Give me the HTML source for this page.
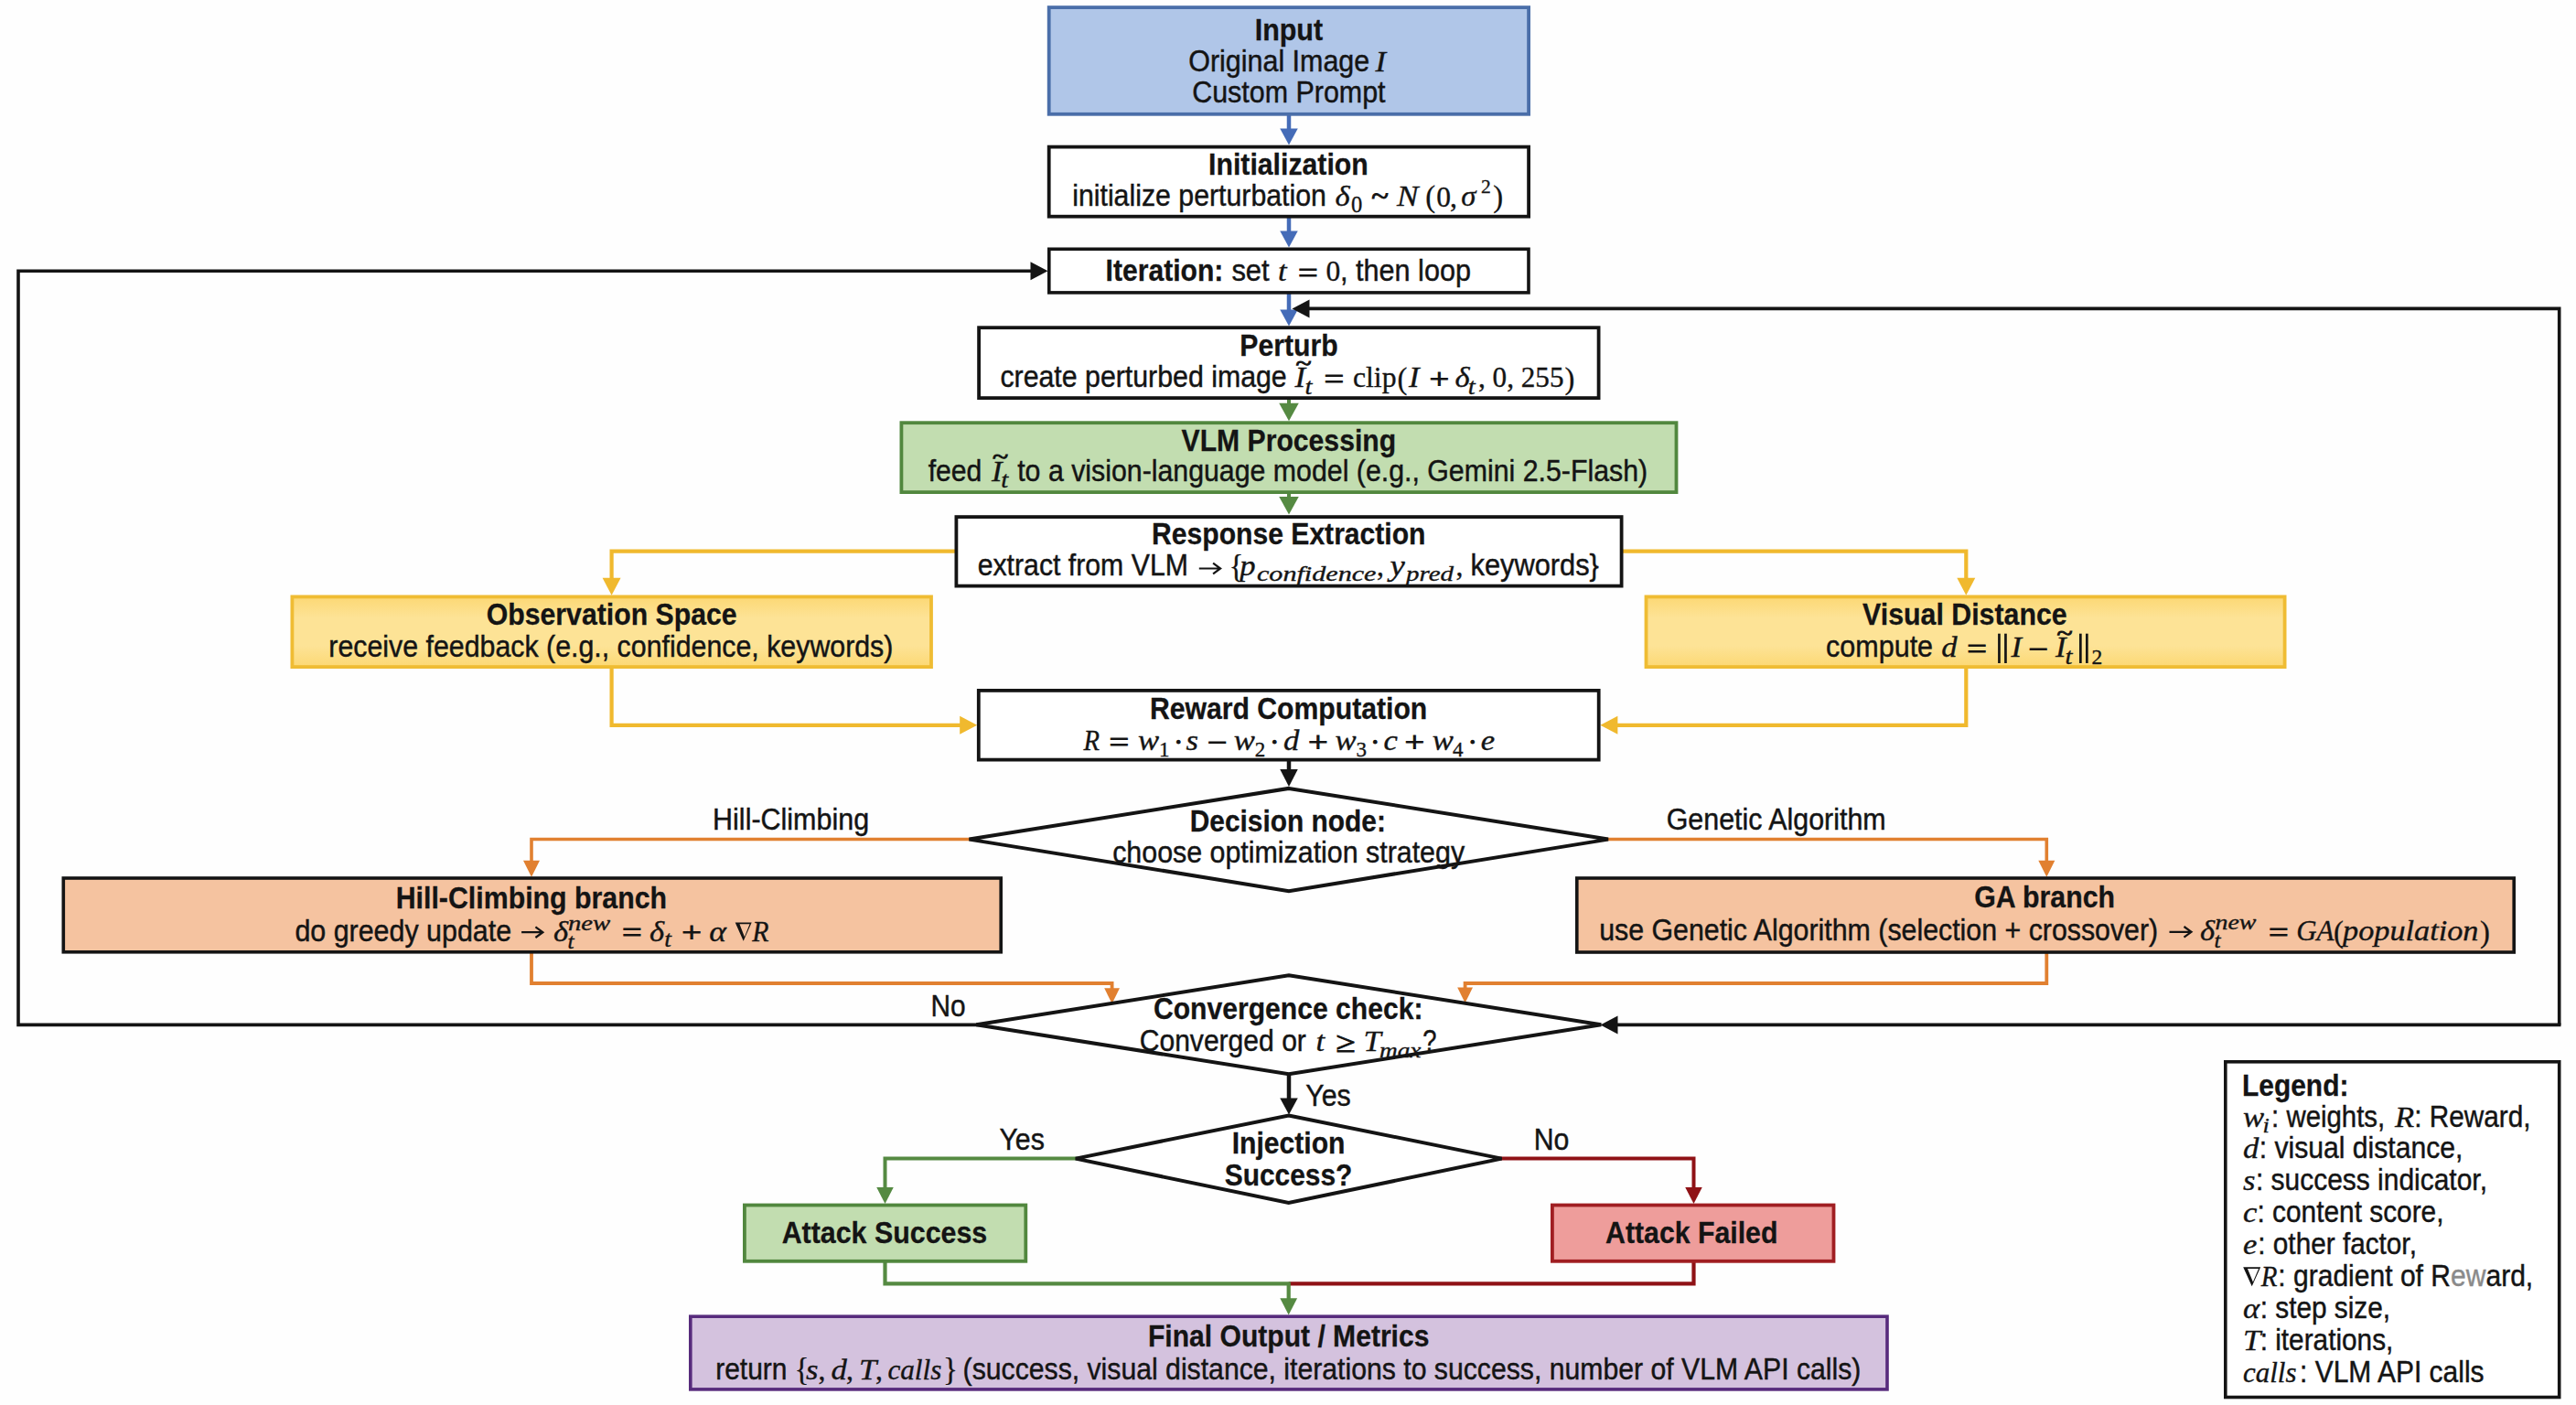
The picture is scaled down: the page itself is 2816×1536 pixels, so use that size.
<!DOCTYPE html>
<html lang="en">
<head>
<meta charset="utf-8">
<title>Flowchart</title>
<style>
html,body{margin:0;padding:0;background:#fefefe;}
body{width:2816px;height:1536px;overflow:hidden;font-family:"Liberation Sans",sans-serif;}
svg{display:block;}
text{white-space:pre;}
</style>
</head>
<body>
<svg width="2816" height="1536" viewBox="0 0 2816 1536">
<defs><linearGradient id="gy" x1="0" y1="0" x2="0" y2="1"><stop offset="0" stop-color="#fcd874"/><stop offset="0.3" stop-color="#fde396"/><stop offset="0.7" stop-color="#fde396"/><stop offset="1" stop-color="#fcd874"/></linearGradient></defs>
<rect x="0" y="0" width="2816" height="1536" fill="#fefefe"/>
<path d="M1409 124 L1409 142.5" fill="none" stroke="#456cb8" stroke-width="4.5" stroke-linejoin="miter"/>
<polygon points="1409,158.5 1399.25,140.5 1418.75,140.5" fill="#456cb8"/>
<path d="M1409 236 L1409 254.5" fill="none" stroke="#456cb8" stroke-width="4.5" stroke-linejoin="miter"/>
<polygon points="1409,270.5 1399.25,252.5 1418.75,252.5" fill="#456cb8"/>
<path d="M1409 319 L1409 340.5" fill="none" stroke="#456cb8" stroke-width="4.5" stroke-linejoin="miter"/>
<polygon points="1409,356.5 1399.25,338.5 1418.75,338.5" fill="#456cb8"/>
<path d="M1409 434 L1409 442.8" fill="none" stroke="#558a42" stroke-width="4" stroke-linejoin="miter"/>
<polygon points="1409,460.3 1398.25,440.8 1419.75,440.8" fill="#558a42"/>
<path d="M1409 538 L1409 544.9" fill="none" stroke="#558a42" stroke-width="4" stroke-linejoin="miter"/>
<polygon points="1409,562.4 1398.25,542.9 1419.75,542.9" fill="#558a42"/>
<path d="M1046 602.7 L668.6 602.7 L668.6 633.8" fill="none" stroke="#f0b92e" stroke-width="4.2" stroke-linejoin="miter"/>
<polygon points="668.6,650.8 658.6,631.8 678.6,631.8" fill="#f0b92e"/>
<path d="M1772 602.7 L2149.3 602.7 L2149.3 633.8" fill="none" stroke="#f0b92e" stroke-width="4.2" stroke-linejoin="miter"/>
<polygon points="2149.3,650.8 2139.3,631.8 2159.3,631.8" fill="#f0b92e"/>
<path d="M668.6 729 L668.6 792.8 L1051.2 792.8" fill="none" stroke="#f0b92e" stroke-width="4.2" stroke-linejoin="miter"/>
<polygon points="1068.2,792.8 1049.2,782.8 1049.2,802.8" fill="#f0b92e"/>
<path d="M2149.3 729 L2149.3 792.8 L1766.4 792.8" fill="none" stroke="#f0b92e" stroke-width="4.2" stroke-linejoin="miter"/>
<polygon points="1749.4,792.8 1768.4,782.8 1768.4,802.8" fill="#f0b92e"/>
<path d="M1409 830 L1409 843" fill="none" stroke="#141414" stroke-width="4.5" stroke-linejoin="miter"/>
<polygon points="1409,860 1399.25,841 1418.75,841" fill="#141414"/>
<path d="M1064 917.5 L581 917.5 L581 942.8" fill="none" stroke="#e18030" stroke-width="3.6" stroke-linejoin="miter"/>
<polygon points="581,958.8 572,940.8 590,940.8" fill="#e18030"/>
<path d="M1754 917.5 L2237.3 917.5 L2237.3 942.8" fill="none" stroke="#e18030" stroke-width="3.6" stroke-linejoin="miter"/>
<polygon points="2237.3,958.8 2228.3,940.8 2246.3,940.8" fill="#e18030"/>
<path d="M581 1041 L581 1075 L1215.6 1075 L1215.6 1082.2" fill="none" stroke="#e18030" stroke-width="3.8" stroke-linejoin="miter"/>
<polygon points="1215.6,1097.2 1207.2,1080.2 1224,1080.2" fill="#e18030"/>
<path d="M2237.3 1041 L2237.3 1075 L1601.6 1075 L1601.6 1081.5" fill="none" stroke="#e18030" stroke-width="3.8" stroke-linejoin="miter"/>
<polygon points="1601.6,1096.5 1593.2,1079.5 1610,1079.5" fill="#e18030"/>
<path d="M1072 1120.4 L20 1120.4 L20 296.2 L1128.5 296.2" fill="none" stroke="#141414" stroke-width="3.6" stroke-linejoin="miter"/>
<polygon points="1145.5,296.2 1126.5,286.2 1126.5,306.2" fill="#141414"/>
<path d="M2797.7 1120.4 L2797.7 337.4 L1429.5 337.4" fill="none" stroke="#141414" stroke-width="3.6" stroke-linejoin="miter"/>
<polygon points="1412.5,337.4 1431.5,327.4 1431.5,347.4" fill="#141414"/>
<path d="M2799.5 1120.4 L1766.5 1120.4" fill="none" stroke="#141414" stroke-width="3.6" stroke-linejoin="miter"/>
<polygon points="1749.5,1120.4 1768.5,1110.4 1768.5,1130.4" fill="#141414"/>
<path d="M1409 1173 L1409 1202.5" fill="none" stroke="#141414" stroke-width="4.5" stroke-linejoin="miter"/>
<polygon points="1409,1218.5 1399.25,1200.5 1418.75,1200.5" fill="#141414"/>
<path d="M1180 1266.5 L967.5 1266.5 L967.5 1300" fill="none" stroke="#558a42" stroke-width="4" stroke-linejoin="miter"/>
<polygon points="967.5,1316 958.25,1298 976.75,1298" fill="#558a42"/>
<path d="M1637 1266.5 L1851.5 1266.5 L1851.5 1300" fill="none" stroke="#8f1216" stroke-width="4" stroke-linejoin="miter"/>
<polygon points="1851.5,1316 1842.25,1298 1860.75,1298" fill="#8f1216"/>
<path d="M1851.5 1378 L1851.5 1403.4 L1408.7 1403.4" fill="none" stroke="#8f1216" stroke-width="4.2" stroke-linejoin="miter"/>
<path d="M967.5 1378 L967.5 1403.4 L1408.7 1403.4 L1408.7 1421.2" fill="none" stroke="#558a42" stroke-width="4.2" stroke-linejoin="miter"/>
<polygon points="1408.7,1437.4 1399.3,1419.2 1418.1,1419.2" fill="#558a42"/>
<rect x="1146.7" y="8.1" width="524.4" height="116.7" fill="#b0c6e8" stroke="#4a6ea9" stroke-width="3.8"/>
<rect x="1146.7" y="160.6" width="524.4" height="76.1" fill="#fff" stroke="#141414" stroke-width="3.8"/>
<rect x="1146.8" y="272.3" width="524.2" height="47.6" fill="#fff" stroke="#141414" stroke-width="3.6"/>
<rect x="1070.1" y="358.2" width="677.5" height="76.9" fill="#fff" stroke="#141414" stroke-width="3.8"/>
<rect x="985.4" y="462.2" width="847.1" height="75.9" fill="#c2ddb0" stroke="#51873e" stroke-width="3.8"/>
<rect x="1045.4" y="565.1" width="727.2" height="75.5" fill="#fff" stroke="#141414" stroke-width="3.8"/>
<rect x="319.4" y="652.4" width="698.6" height="76.7" fill="url(#gy)" stroke="#efbc33" stroke-width="3.8"/>
<rect x="1799.5" y="652.4" width="698.1" height="76.7" fill="url(#gy)" stroke="#efbc33" stroke-width="3.8"/>
<rect x="1069.8" y="754.9" width="677.9" height="75.7" fill="#fff" stroke="#141414" stroke-width="3.8"/>
<rect x="69.3" y="960" width="1024.9" height="80.8" fill="#f5c3a0" stroke="#141414" stroke-width="3.6"/>
<rect x="1723.8" y="960" width="1024.4" height="81" fill="#f5c3a0" stroke="#141414" stroke-width="3.6"/>
<rect x="813.9" y="1317.5" width="307.4" height="61.3" fill="#c2ddb0" stroke="#51873e" stroke-width="3.8"/>
<rect x="1696.9" y="1317.5" width="307.6" height="61.3" fill="#ee9d9b" stroke="#a01e22" stroke-width="3.8"/>
<rect x="754.8" y="1439.2" width="1308.2" height="79.7" fill="#d4c2de" stroke="#572b7c" stroke-width="3.6"/>
<rect x="2432.8" y="1160.8" width="364.9" height="366.7" fill="#fff" stroke="#141414" stroke-width="3.6"/>
<polygon points="1408.9,861.9 1758,917.6 1408.9,974.1 1059.5,917.6" fill="#fff" stroke="#141414" stroke-width="4" stroke-linejoin="miter"/>
<polygon points="1408.8,1066.3 1750.3,1120.3 1408.8,1174.2 1067.3,1120.3" fill="#fff" stroke="#141414" stroke-width="4" stroke-linejoin="miter"/>
<polygon points="1408.7,1219.5 1641.6,1266.6 1408.7,1315 1175.8,1266.6" fill="#fff" stroke="#141414" stroke-width="4" stroke-linejoin="miter"/>
<text x="1371.7" y="43.5" font-family='"Liberation Sans", sans-serif' font-size="33.8" fill="#141414" font-weight="bold" stroke="#141414" stroke-width="0.3" textLength="74.4" lengthAdjust="spacingAndGlyphs">Input</text>
<text x="1299.3" y="77.8" font-family='"Liberation Sans", sans-serif' font-size="33.4" fill="#141414" stroke="#141414" stroke-width="0.45" textLength="197.9" lengthAdjust="spacingAndGlyphs">Original Image</text>
<text x="1503.5" y="77.8" font-family='"Liberation Serif", serif' font-size="31.5" fill="#141414" font-style="italic" stroke="#141414" stroke-width="0.35" textLength="11.54" lengthAdjust="spacingAndGlyphs">I</text>
<text x="1303.2" y="111.5" font-family='"Liberation Sans", sans-serif' font-size="33.4" fill="#141414" stroke="#141414" stroke-width="0.45" textLength="211.4" lengthAdjust="spacingAndGlyphs">Custom Prompt</text>
<text x="1321.1" y="191.3" font-family='"Liberation Sans", sans-serif' font-size="33.8" fill="#141414" font-weight="bold" stroke="#141414" stroke-width="0.3" textLength="174.6" lengthAdjust="spacingAndGlyphs">Initialization</text>
<text x="1172.2" y="225" font-family='"Liberation Sans", sans-serif' font-size="33.4" fill="#141414" stroke="#141414" stroke-width="0.45" textLength="277.7" lengthAdjust="spacingAndGlyphs">initialize perturbation</text>
<text x="1459.5" y="225.3" font-family='"Liberation Serif", serif' font-size="31.5" fill="#141414" font-style="italic" stroke="#141414" stroke-width="0.35" textLength="16.11" lengthAdjust="spacingAndGlyphs">δ</text>
<text x="1477" y="232" font-family='"Liberation Serif", serif' font-size="24.5" fill="#141414" stroke="#141414" stroke-width="0.35" textLength="12.25" lengthAdjust="spacingAndGlyphs">0</text>
<text x="1499.3" y="225.3" font-family='"Liberation Serif", serif' font-size="31.5" fill="#141414" stroke="#141414" stroke-width="1" textLength="18.7" lengthAdjust="spacingAndGlyphs">~</text>
<text x="1527" y="225.3" font-family='"Liberation Serif", serif' font-size="31.5" fill="#141414" font-style="italic" stroke="#141414" stroke-width="0.35" textLength="23.5" lengthAdjust="spacingAndGlyphs">N</text>
<text x="1558.3" y="226.4" font-family='"Liberation Serif", serif' font-size="34.5" fill="#141414" stroke="#141414" stroke-width="0.3" textLength="10.91" lengthAdjust="spacingAndGlyphs">(</text>
<text x="1570.3" y="225.5" font-family='"Liberation Serif", serif' font-size="31.5" fill="#141414" stroke="#141414" stroke-width="0.35" textLength="15.75" lengthAdjust="spacingAndGlyphs">0</text>
<text x="1585" y="225.5" font-family='"Liberation Serif", serif' font-size="31.5" fill="#141414" stroke="#141414" stroke-width="0.35" textLength="7.88" lengthAdjust="spacingAndGlyphs">,</text>
<text x="1597.3" y="225.3" font-family='"Liberation Serif", serif' font-size="31.5" fill="#141414" font-style="italic" stroke="#141414" stroke-width="0.35" textLength="16.2" lengthAdjust="spacingAndGlyphs">σ</text>
<text x="1619" y="211.4" font-family='"Liberation Serif", serif' font-size="21.5" fill="#141414" stroke="#141414" stroke-width="0.35" textLength="10.75" lengthAdjust="spacingAndGlyphs">2</text>
<text x="1632.3" y="226.4" font-family='"Liberation Serif", serif' font-size="34.5" fill="#141414" stroke="#141414" stroke-width="0.3" textLength="10.91" lengthAdjust="spacingAndGlyphs">)</text>
<text x="1208.6" y="306.9" font-family='"Liberation Sans", sans-serif' font-size="33.8" fill="#141414" font-weight="bold" stroke="#141414" stroke-width="0.3" textLength="128.8" lengthAdjust="spacingAndGlyphs">Iteration:</text>
<text x="1346.4" y="306.9" font-family='"Liberation Sans", sans-serif' font-size="33.4" fill="#141414" stroke="#141414" stroke-width="0.45" textLength="41.3" lengthAdjust="spacingAndGlyphs">set</text>
<text x="1397" y="306.9" font-family='"Liberation Serif", serif' font-size="31.5" fill="#141414" font-style="italic" stroke="#141414" stroke-width="0.35" textLength="9.63" lengthAdjust="spacingAndGlyphs">t</text>
<text x="1419" y="308.5" font-family='"Liberation Serif", serif' font-size="31.5" fill="#141414" stroke="#141414" stroke-width="1" textLength="21.67" lengthAdjust="spacingAndGlyphs">=</text>
<text x="1449.5" y="306.9" font-family='"Liberation Serif", serif' font-size="31.5" fill="#141414" stroke="#141414" stroke-width="0.35" textLength="15.75" lengthAdjust="spacingAndGlyphs">0</text>
<text x="1465.1" y="306.9" font-family='"Liberation Sans", sans-serif' font-size="33.4" fill="#141414" stroke="#141414" stroke-width="0.45" textLength="142.8" lengthAdjust="spacingAndGlyphs">, then loop</text>
<text x="1355.3" y="388.5" font-family='"Liberation Sans", sans-serif' font-size="33.8" fill="#141414" font-weight="bold" stroke="#141414" stroke-width="0.3" textLength="107.3" lengthAdjust="spacingAndGlyphs">Perturb</text>
<text x="1093.4" y="423.4" font-family='"Liberation Sans", sans-serif' font-size="33.4" fill="#141414" stroke="#141414" stroke-width="0.45" textLength="313.3" lengthAdjust="spacingAndGlyphs">create perturbed image</text>
<text x="1415.5" y="423.4" font-family='"Liberation Serif", serif' font-size="31.5" fill="#141414" font-style="italic" stroke="#141414" stroke-width="0.35" textLength="11.54" lengthAdjust="spacingAndGlyphs">I</text>
<text x="1416.5" y="405" font-family='"Liberation Serif", serif' font-size="26" fill="#141414" stroke="#141414" stroke-width="1" textLength="17.16" lengthAdjust="spacingAndGlyphs">~</text>
<text x="1426.5" y="430.6" font-family='"Liberation Serif", serif' font-size="26" fill="#141414" font-style="italic" stroke="#141414" stroke-width="0.35" textLength="7.95" lengthAdjust="spacingAndGlyphs">t</text>
<text x="1447.5" y="425" font-family='"Liberation Serif", serif' font-size="31.5" fill="#141414" stroke="#141414" stroke-width="1" textLength="21.67" lengthAdjust="spacingAndGlyphs">=</text>
<text x="1479" y="423.4" font-family='"Liberation Serif", serif' font-size="31.5" fill="#141414" stroke="#141414" stroke-width="0.35" textLength="47.5" lengthAdjust="spacingAndGlyphs">clip</text>
<text x="1527.5" y="424.8" font-family='"Liberation Serif", serif' font-size="34.5" fill="#141414" stroke="#141414" stroke-width="0.3" textLength="10.91" lengthAdjust="spacingAndGlyphs">(</text>
<text x="1540" y="423.4" font-family='"Liberation Serif", serif' font-size="31.5" fill="#141414" font-style="italic" stroke="#141414" stroke-width="0.35" textLength="11.54" lengthAdjust="spacingAndGlyphs">I</text>
<text x="1562.5" y="425" font-family='"Liberation Serif", serif' font-size="31.5" fill="#141414" stroke="#141414" stroke-width="1" textLength="21.67" lengthAdjust="spacingAndGlyphs">+</text>
<text x="1590.5" y="423.4" font-family='"Liberation Serif", serif' font-size="31.5" fill="#141414" font-style="italic" stroke="#141414" stroke-width="0.35" textLength="16.11" lengthAdjust="spacingAndGlyphs">δ</text>
<text x="1604.8" y="430.6" font-family='"Liberation Serif", serif' font-size="26" fill="#141414" font-style="italic" stroke="#141414" stroke-width="0.35" textLength="7.95" lengthAdjust="spacingAndGlyphs">t</text>
<text x="1616" y="423.4" font-family='"Liberation Serif", serif' font-size="31.5" fill="#141414" stroke="#141414" stroke-width="0.35" textLength="93.5" lengthAdjust="spacingAndGlyphs">, 0, 255</text>
<text x="1710.5" y="424.8" font-family='"Liberation Serif", serif' font-size="34.5" fill="#141414" stroke="#141414" stroke-width="0.3" textLength="10.91" lengthAdjust="spacingAndGlyphs">)</text>
<text x="1291.6" y="493.2" font-family='"Liberation Sans", sans-serif' font-size="33.8" fill="#141414" font-weight="bold" stroke="#141414" stroke-width="0.3" textLength="234.5" lengthAdjust="spacingAndGlyphs">VLM Processing</text>
<text x="1014.7" y="526.2" font-family='"Liberation Sans", sans-serif' font-size="33.4" fill="#141414" stroke="#141414" stroke-width="0.45" textLength="58.7" lengthAdjust="spacingAndGlyphs">feed</text>
<text x="1084" y="526.2" font-family='"Liberation Serif", serif' font-size="31.5" fill="#141414" font-style="italic" stroke="#141414" stroke-width="0.35" textLength="11.54" lengthAdjust="spacingAndGlyphs">I</text>
<text x="1085" y="507.3" font-family='"Liberation Serif", serif' font-size="26" fill="#141414" stroke="#141414" stroke-width="1" textLength="17.16" lengthAdjust="spacingAndGlyphs">~</text>
<text x="1094.3" y="533.2" font-family='"Liberation Serif", serif' font-size="26" fill="#141414" font-style="italic" stroke="#141414" stroke-width="0.35" textLength="7.95" lengthAdjust="spacingAndGlyphs">t</text>
<text x="1112.2" y="526.2" font-family='"Liberation Sans", sans-serif' font-size="33.4" fill="#141414" stroke="#141414" stroke-width="0.45" textLength="688.9" lengthAdjust="spacingAndGlyphs">to a vision-language model (e.g., Gemini 2.5-Flash)</text>
<text x="1259.1" y="594.7" font-family='"Liberation Sans", sans-serif' font-size="33.8" fill="#141414" font-weight="bold" stroke="#141414" stroke-width="0.3" textLength="299.4" lengthAdjust="spacingAndGlyphs">Response Extraction</text>
<text x="1068.7" y="629" font-family='"Liberation Sans", sans-serif' font-size="33.4" fill="#141414" stroke="#141414" stroke-width="0.45" textLength="230.2" lengthAdjust="spacingAndGlyphs">extract from VLM</text>
<path d="M1310.8 621.5 L1333.1 621.5 M1326.1 615.7 L1334.1 621.5 L1326.1 627.3" fill="none" stroke="#141414" stroke-width="2.2" stroke-linecap="butt" stroke-linejoin="miter"/>
<text x="1343.5" y="630.5" font-family='"Liberation Serif", serif' font-size="35" fill="#141414" stroke="#141414" stroke-width="0.3" textLength="15.96" lengthAdjust="spacingAndGlyphs">{</text>
<text x="1355.3" y="629" font-family='"Liberation Serif", serif' font-size="31.5" fill="#141414" font-style="italic" stroke="#141414" stroke-width="0.35" textLength="17.3" lengthAdjust="spacingAndGlyphs">p</text>
<text x="1374" y="634.5" font-family='"Liberation Serif", serif' font-size="23" fill="#141414" font-style="italic" stroke="#141414" stroke-width="0.35" textLength="130.5" lengthAdjust="spacingAndGlyphs">confidence</text>
<text x="1505" y="629" font-family='"Liberation Serif", serif' font-size="31.5" fill="#141414" stroke="#141414" stroke-width="0.35" textLength="7.88" lengthAdjust="spacingAndGlyphs">,</text>
<text x="1519.5" y="629" font-family='"Liberation Serif", serif' font-size="31.5" fill="#141414" font-style="italic" stroke="#141414" stroke-width="0.35" textLength="16.3" lengthAdjust="spacingAndGlyphs">y</text>
<text x="1537" y="634.5" font-family='"Liberation Serif", serif' font-size="23" fill="#141414" font-style="italic" stroke="#141414" stroke-width="0.35" textLength="52" lengthAdjust="spacingAndGlyphs">pred</text>
<text x="1591.5" y="629" font-family='"Liberation Serif", serif' font-size="31.5" fill="#141414" stroke="#141414" stroke-width="0.35" textLength="7.88" lengthAdjust="spacingAndGlyphs">,</text>
<text x="1607.6" y="629" font-family='"Liberation Sans", sans-serif' font-size="33.4" fill="#141414" stroke="#141414" stroke-width="0.45" textLength="140.3" lengthAdjust="spacingAndGlyphs">keywords}</text>
<text x="531.7" y="683.4" font-family='"Liberation Sans", sans-serif' font-size="33.8" fill="#141414" font-weight="bold" stroke="#141414" stroke-width="0.3" textLength="273.9" lengthAdjust="spacingAndGlyphs">Observation Space</text>
<text x="359.3" y="717.6" font-family='"Liberation Sans", sans-serif' font-size="33.4" fill="#141414" stroke="#141414" stroke-width="0.45" textLength="617.1" lengthAdjust="spacingAndGlyphs">receive feedback (e.g., confidence, keywords)</text>
<text x="2036.1" y="683.4" font-family='"Liberation Sans", sans-serif' font-size="33.8" fill="#141414" font-weight="bold" stroke="#141414" stroke-width="0.3" textLength="223.6" lengthAdjust="spacingAndGlyphs">Visual Distance</text>
<text x="1996" y="717.6" font-family='"Liberation Sans", sans-serif' font-size="33.4" fill="#141414" stroke="#141414" stroke-width="0.45" textLength="117.1" lengthAdjust="spacingAndGlyphs">compute</text>
<text x="2122.3" y="717.9" font-family='"Liberation Serif", serif' font-size="31.5" fill="#141414" font-style="italic" stroke="#141414" stroke-width="0.35" textLength="17.32" lengthAdjust="spacingAndGlyphs">d</text>
<text x="2150.3" y="719.5" font-family='"Liberation Serif", serif' font-size="31.5" fill="#141414" stroke="#141414" stroke-width="1" textLength="21.67" lengthAdjust="spacingAndGlyphs">=</text>
<rect x="2184.1" y="692.7" width="2.7" height="32.3" fill="#141414"/>
<rect x="2191.1" y="692.7" width="2.7" height="32.3" fill="#141414"/>
<text x="2198.5" y="717.9" font-family='"Liberation Serif", serif' font-size="31.5" fill="#141414" font-style="italic" stroke="#141414" stroke-width="0.35" textLength="11.54" lengthAdjust="spacingAndGlyphs">I</text>
<text x="2217.5" y="719.5" font-family='"Liberation Serif", serif' font-size="31.5" fill="#141414" stroke="#141414" stroke-width="1" textLength="21.67" lengthAdjust="spacingAndGlyphs">−</text>
<text x="2247" y="717.9" font-family='"Liberation Serif", serif' font-size="31.5" fill="#141414" font-style="italic" stroke="#141414" stroke-width="0.35" textLength="11.54" lengthAdjust="spacingAndGlyphs">I</text>
<text x="2248.5" y="699.8" font-family='"Liberation Serif", serif' font-size="26" fill="#141414" stroke="#141414" stroke-width="1" textLength="17.16" lengthAdjust="spacingAndGlyphs">~</text>
<text x="2257.5" y="726.3" font-family='"Liberation Serif", serif' font-size="26" fill="#141414" font-style="italic" stroke="#141414" stroke-width="0.35" textLength="7.95" lengthAdjust="spacingAndGlyphs">t</text>
<rect x="2273" y="692.7" width="2.7" height="32.3" fill="#141414"/>
<rect x="2280" y="692.7" width="2.7" height="32.3" fill="#141414"/>
<text x="2286.5" y="726.3" font-family='"Liberation Serif", serif' font-size="23.5" fill="#141414" stroke="#141414" stroke-width="0.35" textLength="11.75" lengthAdjust="spacingAndGlyphs">2</text>
<text x="1257" y="786" font-family='"Liberation Sans", sans-serif' font-size="33.8" fill="#141414" font-weight="bold" stroke="#141414" stroke-width="0.3" textLength="303.3" lengthAdjust="spacingAndGlyphs">Reward Computation</text>
<text x="1184.5" y="820" font-family='"Liberation Serif", serif' font-size="31.5" fill="#141414" font-style="italic" stroke="#141414" stroke-width="0.35" textLength="17.5" lengthAdjust="spacingAndGlyphs">R</text>
<text x="1212.5" y="821.6" font-family='"Liberation Serif", serif' font-size="31.5" fill="#141414" stroke="#141414" stroke-width="1" textLength="21.67" lengthAdjust="spacingAndGlyphs">=</text>
<text x="1244" y="820" font-family='"Liberation Serif", serif' font-size="31.5" fill="#141414" font-style="italic" stroke="#141414" stroke-width="0.35" textLength="23.11" lengthAdjust="spacingAndGlyphs">w</text>
<text x="1267" y="826.5" font-family='"Liberation Serif", serif' font-size="23" fill="#141414" stroke="#141414" stroke-width="0.35" textLength="11.5" lengthAdjust="spacingAndGlyphs">1</text>
<text x="1283" y="821.6" font-family='"Liberation Serif", serif' font-size="31.5" fill="#141414" stroke="#141414" stroke-width="1" textLength="10.49" lengthAdjust="spacingAndGlyphs">·</text>
<text x="1296.5" y="820" font-family='"Liberation Serif", serif' font-size="31.5" fill="#141414" font-style="italic" stroke="#141414" stroke-width="0.35" textLength="13.48" lengthAdjust="spacingAndGlyphs">s</text>
<text x="1320" y="821.6" font-family='"Liberation Serif", serif' font-size="31.5" fill="#141414" stroke="#141414" stroke-width="1" textLength="21.67" lengthAdjust="spacingAndGlyphs">−</text>
<text x="1348.8" y="820" font-family='"Liberation Serif", serif' font-size="31.5" fill="#141414" font-style="italic" stroke="#141414" stroke-width="0.35" textLength="23.11" lengthAdjust="spacingAndGlyphs">w</text>
<text x="1371.8" y="826.5" font-family='"Liberation Serif", serif' font-size="23" fill="#141414" stroke="#141414" stroke-width="0.35" textLength="11.5" lengthAdjust="spacingAndGlyphs">2</text>
<text x="1388" y="821.6" font-family='"Liberation Serif", serif' font-size="31.5" fill="#141414" stroke="#141414" stroke-width="1" textLength="10.49" lengthAdjust="spacingAndGlyphs">·</text>
<text x="1403" y="820" font-family='"Liberation Serif", serif' font-size="31.5" fill="#141414" font-style="italic" stroke="#141414" stroke-width="0.35" textLength="17.33" lengthAdjust="spacingAndGlyphs">d</text>
<text x="1430" y="821.6" font-family='"Liberation Serif", serif' font-size="31.5" fill="#141414" stroke="#141414" stroke-width="1" textLength="21.67" lengthAdjust="spacingAndGlyphs">+</text>
<text x="1459.4" y="820" font-family='"Liberation Serif", serif' font-size="31.5" fill="#141414" font-style="italic" stroke="#141414" stroke-width="0.35" textLength="23.11" lengthAdjust="spacingAndGlyphs">w</text>
<text x="1482.4" y="826.5" font-family='"Liberation Serif", serif' font-size="23" fill="#141414" stroke="#141414" stroke-width="0.35" textLength="11.5" lengthAdjust="spacingAndGlyphs">3</text>
<text x="1498" y="821.6" font-family='"Liberation Serif", serif' font-size="31.5" fill="#141414" stroke="#141414" stroke-width="1" textLength="10.49" lengthAdjust="spacingAndGlyphs">·</text>
<text x="1512.6" y="820" font-family='"Liberation Serif", serif' font-size="31.5" fill="#141414" font-style="italic" stroke="#141414" stroke-width="0.35" textLength="15.38" lengthAdjust="spacingAndGlyphs">c</text>
<text x="1535.5" y="821.6" font-family='"Liberation Serif", serif' font-size="31.5" fill="#141414" stroke="#141414" stroke-width="1" textLength="21.67" lengthAdjust="spacingAndGlyphs">+</text>
<text x="1565.7" y="820" font-family='"Liberation Serif", serif' font-size="31.5" fill="#141414" font-style="italic" stroke="#141414" stroke-width="0.35" textLength="23.11" lengthAdjust="spacingAndGlyphs">w</text>
<text x="1588" y="826.5" font-family='"Liberation Serif", serif' font-size="23" fill="#141414" stroke="#141414" stroke-width="0.35" textLength="11.5" lengthAdjust="spacingAndGlyphs">4</text>
<text x="1604.5" y="821.6" font-family='"Liberation Serif", serif' font-size="31.5" fill="#141414" stroke="#141414" stroke-width="1" textLength="10.49" lengthAdjust="spacingAndGlyphs">·</text>
<text x="1618.8" y="820" font-family='"Liberation Serif", serif' font-size="31.5" fill="#141414" font-style="italic" stroke="#141414" stroke-width="0.35" textLength="15.38" lengthAdjust="spacingAndGlyphs">e</text>
<text x="1300.7" y="909.1" font-family='"Liberation Sans", sans-serif' font-size="33.8" fill="#141414" font-weight="bold" stroke="#141414" stroke-width="0.3" textLength="214.2" lengthAdjust="spacingAndGlyphs">Decision node:</text>
<text x="1216.2" y="943.4" font-family='"Liberation Sans", sans-serif' font-size="33.4" fill="#141414" stroke="#141414" stroke-width="0.45" textLength="384.9" lengthAdjust="spacingAndGlyphs">choose optimization strategy</text>
<text x="779.1" y="907.2" font-family='"Liberation Sans", sans-serif' font-size="33.4" fill="#141414" stroke="#141414" stroke-width="0.45" textLength="171" lengthAdjust="spacingAndGlyphs">Hill-Climbing</text>
<text x="1821.7" y="907.2" font-family='"Liberation Sans", sans-serif' font-size="33.4" fill="#141414" stroke="#141414" stroke-width="0.45" textLength="240" lengthAdjust="spacingAndGlyphs">Genetic Algorithm</text>
<text x="432.7" y="992.5" font-family='"Liberation Sans", sans-serif' font-size="33.8" fill="#141414" font-weight="bold" stroke="#141414" stroke-width="0.3" textLength="296.4" lengthAdjust="spacingAndGlyphs">Hill-Climbing branch</text>
<text x="322.4" y="1028.7" font-family='"Liberation Sans", sans-serif' font-size="33.4" fill="#141414" stroke="#141414" stroke-width="0.45" textLength="236.7" lengthAdjust="spacingAndGlyphs">do greedy update</text>
<path d="M570.1 1019.2 L592.4 1019.2 M585.4 1013.4 L593.4 1019.2 L585.4 1025" fill="none" stroke="#141414" stroke-width="2.2" stroke-linecap="butt" stroke-linejoin="miter"/>
<text x="605" y="1028.7" font-family='"Liberation Serif", serif' font-size="31.5" fill="#141414" font-style="italic" stroke="#141414" stroke-width="0.35" textLength="16.11" lengthAdjust="spacingAndGlyphs">δ</text>
<text x="621" y="1016.7" font-family='"Liberation Serif", serif' font-size="23" fill="#141414" font-style="italic" stroke="#141414" stroke-width="0.35" textLength="46.3" lengthAdjust="spacingAndGlyphs">new</text>
<text x="620.5" y="1036.7" font-family='"Liberation Serif", serif' font-size="23" fill="#141414" font-style="italic" stroke="#141414" stroke-width="0.35" textLength="7.03" lengthAdjust="spacingAndGlyphs">t</text>
<text x="680" y="1030.3" font-family='"Liberation Serif", serif' font-size="31.5" fill="#141414" stroke="#141414" stroke-width="1" textLength="21.67" lengthAdjust="spacingAndGlyphs">=</text>
<text x="710" y="1028.7" font-family='"Liberation Serif", serif' font-size="31.5" fill="#141414" font-style="italic" stroke="#141414" stroke-width="0.35" textLength="16.11" lengthAdjust="spacingAndGlyphs">δ</text>
<text x="726.3" y="1035.2" font-family='"Liberation Serif", serif' font-size="25" fill="#141414" font-style="italic" stroke="#141414" stroke-width="0.35" textLength="7.64" lengthAdjust="spacingAndGlyphs">t</text>
<text x="745.3" y="1030.3" font-family='"Liberation Serif", serif' font-size="31.5" fill="#141414" stroke="#141414" stroke-width="1" textLength="21.67" lengthAdjust="spacingAndGlyphs">+</text>
<text x="775.3" y="1028.7" font-family='"Liberation Serif", serif' font-size="31.5" fill="#141414" font-style="italic" stroke="#141414" stroke-width="0.35" textLength="18.7" lengthAdjust="spacingAndGlyphs">α</text>
<text x="822.3" y="1028.7" font-family='"Liberation Serif", serif' font-size="31.5" fill="#141414" font-style="italic" stroke="#141414" stroke-width="0.35" textLength="18.2" lengthAdjust="spacingAndGlyphs">R</text>
<text x="2158.3" y="992.2" font-family='"Liberation Sans", sans-serif' font-size="33.8" fill="#141414" font-weight="bold" stroke="#141414" stroke-width="0.3" textLength="153.7" lengthAdjust="spacingAndGlyphs">GA branch</text>
<text x="1748.2" y="1028.3" font-family='"Liberation Sans", sans-serif' font-size="33.4" fill="#141414" stroke="#141414" stroke-width="0.45" textLength="611" lengthAdjust="spacingAndGlyphs">use Genetic Algorithm (selection + crossover)</text>
<path d="M2371.5 1018.8 L2394.5 1018.8 M2387.5 1013 L2395.5 1018.8 L2387.5 1024.6" fill="none" stroke="#141414" stroke-width="2.2" stroke-linecap="butt" stroke-linejoin="miter"/>
<text x="2405" y="1028.3" font-family='"Liberation Serif", serif' font-size="31.5" fill="#141414" font-style="italic" stroke="#141414" stroke-width="0.35" textLength="16.11" lengthAdjust="spacingAndGlyphs">δ</text>
<text x="2421.5" y="1016.3" font-family='"Liberation Serif", serif' font-size="23" fill="#141414" font-style="italic" stroke="#141414" stroke-width="0.35" textLength="45" lengthAdjust="spacingAndGlyphs">new</text>
<text x="2420.5" y="1036.3" font-family='"Liberation Serif", serif' font-size="23" fill="#141414" font-style="italic" stroke="#141414" stroke-width="0.35" textLength="7.03" lengthAdjust="spacingAndGlyphs">t</text>
<text x="2480" y="1029.9" font-family='"Liberation Serif", serif' font-size="31.5" fill="#141414" stroke="#141414" stroke-width="1" textLength="21.67" lengthAdjust="spacingAndGlyphs">=</text>
<text x="2510.3" y="1028.3" font-family='"Liberation Serif", serif' font-size="31.5" fill="#141414" font-style="italic" stroke="#141414" stroke-width="0.35" textLength="41.2" lengthAdjust="spacingAndGlyphs">GA</text>
<text x="2551" y="1029.7" font-family='"Liberation Serif", serif' font-size="34.5" fill="#141414" stroke="#141414" stroke-width="0.3" textLength="10.91" lengthAdjust="spacingAndGlyphs">(</text>
<text x="2561" y="1028.3" font-family='"Liberation Serif", serif' font-size="31.5" fill="#141414" font-style="italic" stroke="#141414" stroke-width="0.35" textLength="148.5" lengthAdjust="spacingAndGlyphs">population</text>
<text x="2711" y="1029.7" font-family='"Liberation Serif", serif' font-size="34.5" fill="#141414" stroke="#141414" stroke-width="0.3" textLength="10.91" lengthAdjust="spacingAndGlyphs">)</text>
<text x="1261" y="1114.3" font-family='"Liberation Sans", sans-serif' font-size="33.8" fill="#141414" font-weight="bold" stroke="#141414" stroke-width="0.3" textLength="294.4" lengthAdjust="spacingAndGlyphs">Convergence check:</text>
<text x="1245.7" y="1148.8" font-family='"Liberation Sans", sans-serif' font-size="33.4" fill="#141414" stroke="#141414" stroke-width="0.45" textLength="182.2" lengthAdjust="spacingAndGlyphs">Converged or</text>
<text x="1438.5" y="1148.8" font-family='"Liberation Serif", serif' font-size="31.5" fill="#141414" font-style="italic" stroke="#141414" stroke-width="0.35" textLength="9.63" lengthAdjust="spacingAndGlyphs">t</text>
<text x="1460.5" y="1150.4" font-family='"Liberation Serif", serif' font-size="31.5" fill="#141414" stroke="#141414" stroke-width="1" textLength="21.09" lengthAdjust="spacingAndGlyphs">≥</text>
<text x="1490.5" y="1148.8" font-family='"Liberation Serif", serif' font-size="31.5" fill="#141414" font-style="italic" stroke="#141414" stroke-width="0.35" textLength="19.27" lengthAdjust="spacingAndGlyphs">T</text>
<text x="1508" y="1155.6" font-family='"Liberation Serif", serif' font-size="23" fill="#141414" font-style="italic" stroke="#141414" stroke-width="0.35" textLength="45.5" lengthAdjust="spacingAndGlyphs">max</text>
<text x="1555.2" y="1148.8" font-family='"Liberation Sans", sans-serif' font-size="33.4" fill="#141414" stroke="#141414" stroke-width="0.45" textLength="15.2" lengthAdjust="spacingAndGlyphs">?</text>
<text x="1017.4" y="1111.3" font-family='"Liberation Sans", sans-serif' font-size="33.4" fill="#141414" stroke="#141414" stroke-width="0.45" textLength="38.1" lengthAdjust="spacingAndGlyphs">No</text>
<text x="1427.2" y="1208.5" font-family='"Liberation Sans", sans-serif' font-size="33.4" fill="#141414" stroke="#141414" stroke-width="0.45" textLength="49.5" lengthAdjust="spacingAndGlyphs">Yes</text>
<text x="1346.7" y="1261.2" font-family='"Liberation Sans", sans-serif' font-size="33.8" fill="#141414" font-weight="bold" stroke="#141414" stroke-width="0.3" textLength="123.7" lengthAdjust="spacingAndGlyphs">Injection</text>
<text x="1338.7" y="1296" font-family='"Liberation Sans", sans-serif' font-size="33.8" fill="#141414" font-weight="bold" stroke="#141414" stroke-width="0.3" textLength="139.7" lengthAdjust="spacingAndGlyphs">Success?</text>
<text x="1092.4" y="1256.5" font-family='"Liberation Sans", sans-serif' font-size="33.4" fill="#141414" stroke="#141414" stroke-width="0.45" textLength="49.5" lengthAdjust="spacingAndGlyphs">Yes</text>
<text x="1676.7" y="1256.5" font-family='"Liberation Sans", sans-serif' font-size="33.4" fill="#141414" stroke="#141414" stroke-width="0.45" textLength="38.7" lengthAdjust="spacingAndGlyphs">No</text>
<text x="854.7" y="1359.2" font-family='"Liberation Sans", sans-serif' font-size="33.8" fill="#141414" font-weight="bold" stroke="#141414" stroke-width="0.3" textLength="224.5" lengthAdjust="spacingAndGlyphs">Attack Success</text>
<text x="1755.1" y="1359.2" font-family='"Liberation Sans", sans-serif' font-size="33.8" fill="#141414" font-weight="bold" stroke="#141414" stroke-width="0.3" textLength="188.3" lengthAdjust="spacingAndGlyphs">Attack Failed</text>
<text x="1255" y="1471.7" font-family='"Liberation Sans", sans-serif' font-size="33.8" fill="#141414" font-weight="bold" stroke="#141414" stroke-width="0.3" textLength="307.4" lengthAdjust="spacingAndGlyphs">Final Output / Metrics</text>
<text x="782.2" y="1507.9" font-family='"Liberation Sans", sans-serif' font-size="33.4" fill="#141414" stroke="#141414" stroke-width="0.45" textLength="78.3" lengthAdjust="spacingAndGlyphs">return</text>
<text x="868.5" y="1509.4" font-family='"Liberation Serif", serif' font-size="35" fill="#141414" stroke="#141414" stroke-width="0.3" textLength="15.96" lengthAdjust="spacingAndGlyphs">{</text>
<text x="881" y="1507.9" font-family='"Liberation Serif", serif' font-size="31.5" fill="#141414" font-style="italic" stroke="#141414" stroke-width="0.35" textLength="13.48" lengthAdjust="spacingAndGlyphs">s</text>
<text x="894.5" y="1507.9" font-family='"Liberation Serif", serif' font-size="31.5" fill="#141414" stroke="#141414" stroke-width="0.35" textLength="7.88" lengthAdjust="spacingAndGlyphs">,</text>
<text x="908.5" y="1507.9" font-family='"Liberation Serif", serif' font-size="31.5" fill="#141414" font-style="italic" stroke="#141414" stroke-width="0.35" textLength="17.33" lengthAdjust="spacingAndGlyphs">d</text>
<text x="925" y="1507.9" font-family='"Liberation Serif", serif' font-size="31.5" fill="#141414" stroke="#141414" stroke-width="0.35" textLength="7.88" lengthAdjust="spacingAndGlyphs">,</text>
<text x="939" y="1507.9" font-family='"Liberation Serif", serif' font-size="31.5" fill="#141414" font-style="italic" stroke="#141414" stroke-width="0.35" textLength="19.27" lengthAdjust="spacingAndGlyphs">T</text>
<text x="957" y="1507.9" font-family='"Liberation Serif", serif' font-size="31.5" fill="#141414" stroke="#141414" stroke-width="0.35" textLength="7.88" lengthAdjust="spacingAndGlyphs">,</text>
<text x="970.4" y="1507.9" font-family='"Liberation Serif", serif' font-size="31.5" fill="#141414" font-style="italic" stroke="#141414" stroke-width="0.35" textLength="59" lengthAdjust="spacingAndGlyphs">calls</text>
<text x="1031" y="1509.4" font-family='"Liberation Serif", serif' font-size="35" fill="#141414" stroke="#141414" stroke-width="0.3" textLength="15.96" lengthAdjust="spacingAndGlyphs">}</text>
<text x="1052.6" y="1507.9" font-family='"Liberation Sans", sans-serif' font-size="33.4" fill="#141414" stroke="#141414" stroke-width="0.45" textLength="981.8" lengthAdjust="spacingAndGlyphs">(success, visual distance, iterations to success, number of VLM API calls)</text>
<text x="2451" y="1197.5" font-family='"Liberation Sans", sans-serif' font-size="33.8" fill="#141414" font-weight="bold" stroke="#141414" stroke-width="0.3" textLength="116.4" lengthAdjust="spacingAndGlyphs">Legend:</text>
<text x="2452" y="1231.8" font-family='"Liberation Serif", serif' font-size="31.5" fill="#141414" font-style="italic" stroke="#141414" stroke-width="0.35" textLength="23.11" lengthAdjust="spacingAndGlyphs">w</text>
<text x="2473.5" y="1238.3" font-family='"Liberation Serif", serif' font-size="24" fill="#141414" font-style="italic" stroke="#141414" stroke-width="0.35" textLength="7.33" lengthAdjust="spacingAndGlyphs">i</text>
<text x="2483.1" y="1231.8" font-family='"Liberation Sans", sans-serif' font-size="33.4" fill="#141414" stroke="#141414" stroke-width="0.45" textLength="124.1" lengthAdjust="spacingAndGlyphs">: weights,</text>
<text x="2618" y="1231.8" font-family='"Liberation Serif", serif' font-size="31.5" fill="#141414" font-style="italic" stroke="#141414" stroke-width="0.35" textLength="21.17" lengthAdjust="spacingAndGlyphs">R</text>
<text x="2639.2" y="1231.8" font-family='"Liberation Sans", sans-serif' font-size="33.4" fill="#141414" stroke="#141414" stroke-width="0.45" textLength="127.3" lengthAdjust="spacingAndGlyphs">: Reward,</text>
<text x="2452" y="1265.9" font-family='"Liberation Serif", serif' font-size="31.5" fill="#141414" font-style="italic" stroke="#141414" stroke-width="0.35" textLength="17.32" lengthAdjust="spacingAndGlyphs">d</text>
<text x="2469.7" y="1265.9" font-family='"Liberation Sans", sans-serif' font-size="33.4" fill="#141414" stroke="#141414" stroke-width="0.45" textLength="222.7" lengthAdjust="spacingAndGlyphs">: visual distance,</text>
<text x="2452" y="1300.8" font-family='"Liberation Serif", serif' font-size="31.5" fill="#141414" font-style="italic" stroke="#141414" stroke-width="0.35" textLength="13.48" lengthAdjust="spacingAndGlyphs">s</text>
<text x="2465.9" y="1300.8" font-family='"Liberation Sans", sans-serif' font-size="33.4" fill="#141414" stroke="#141414" stroke-width="0.45" textLength="253.1" lengthAdjust="spacingAndGlyphs">: success indicator,</text>
<text x="2452" y="1336.2" font-family='"Liberation Serif", serif' font-size="31.5" fill="#141414" font-style="italic" stroke="#141414" stroke-width="0.35" textLength="15.38" lengthAdjust="spacingAndGlyphs">c</text>
<text x="2467.5" y="1336.2" font-family='"Liberation Sans", sans-serif' font-size="33.4" fill="#141414" stroke="#141414" stroke-width="0.45" textLength="204" lengthAdjust="spacingAndGlyphs">: content score,</text>
<text x="2452" y="1370.7" font-family='"Liberation Serif", serif' font-size="31.5" fill="#141414" font-style="italic" stroke="#141414" stroke-width="0.35" textLength="15.38" lengthAdjust="spacingAndGlyphs">e</text>
<text x="2468.3" y="1370.7" font-family='"Liberation Sans", sans-serif' font-size="33.4" fill="#141414" stroke="#141414" stroke-width="0.45" textLength="173.6" lengthAdjust="spacingAndGlyphs">: other factor,</text>
<text x="2471.8" y="1406.2" font-family='"Liberation Serif", serif' font-size="31.5" fill="#141414" font-style="italic" stroke="#141414" stroke-width="0.35" textLength="17.7" lengthAdjust="spacingAndGlyphs">R</text>
<text x="2490.3" y="1406.2" font-family='"Liberation Sans", sans-serif' font-size="33.4" fill="#141414" stroke="#141414" stroke-width="0.45" textLength="278.9" lengthAdjust="spacingAndGlyphs">: gradient of R<tspan fill="#8a8a8a" stroke="#8a8a8a">ew</tspan>ard,</text>
<text x="2452" y="1441.1" font-family='"Liberation Serif", serif' font-size="31.5" fill="#141414" font-style="italic" stroke="#141414" stroke-width="0.35" textLength="18.19" lengthAdjust="spacingAndGlyphs">α</text>
<text x="2470.7" y="1441.1" font-family='"Liberation Sans", sans-serif' font-size="33.4" fill="#141414" stroke="#141414" stroke-width="0.45" textLength="142.4" lengthAdjust="spacingAndGlyphs">: step size,</text>
<text x="2452" y="1476.4" font-family='"Liberation Serif", serif' font-size="31.5" fill="#141414" font-style="italic" stroke="#141414" stroke-width="0.35" textLength="19.27" lengthAdjust="spacingAndGlyphs">T</text>
<text x="2470.7" y="1476.4" font-family='"Liberation Sans", sans-serif' font-size="33.4" fill="#141414" stroke="#141414" stroke-width="0.45" textLength="145.6" lengthAdjust="spacingAndGlyphs">: iterations,</text>
<text x="2452" y="1510.8" font-family='"Liberation Serif", serif' font-size="31.5" fill="#141414" font-style="italic" stroke="#141414" stroke-width="0.35" textLength="58.5" lengthAdjust="spacingAndGlyphs">calls</text>
<text x="2514" y="1510.8" font-family='"Liberation Sans", sans-serif' font-size="33.4" fill="#141414" stroke="#141414" stroke-width="0.45" textLength="201.6" lengthAdjust="spacingAndGlyphs">: VLM API calls</text>
<path d="M803.7 1008.5 L821.7 1008.5 L812.7 1028.8 Z M808.5 1010.3 L819.5 1010.3 L813.9 1024.2 Z" fill="#141414" fill-rule="evenodd"/>
<path d="M2452.2 1385.2 L2471.2 1385.2 L2461.7 1406.2 Z M2457 1387 L2469 1387 L2462.9 1401.6 Z" fill="#141414" fill-rule="evenodd"/>
</svg>
</body>
</html>
